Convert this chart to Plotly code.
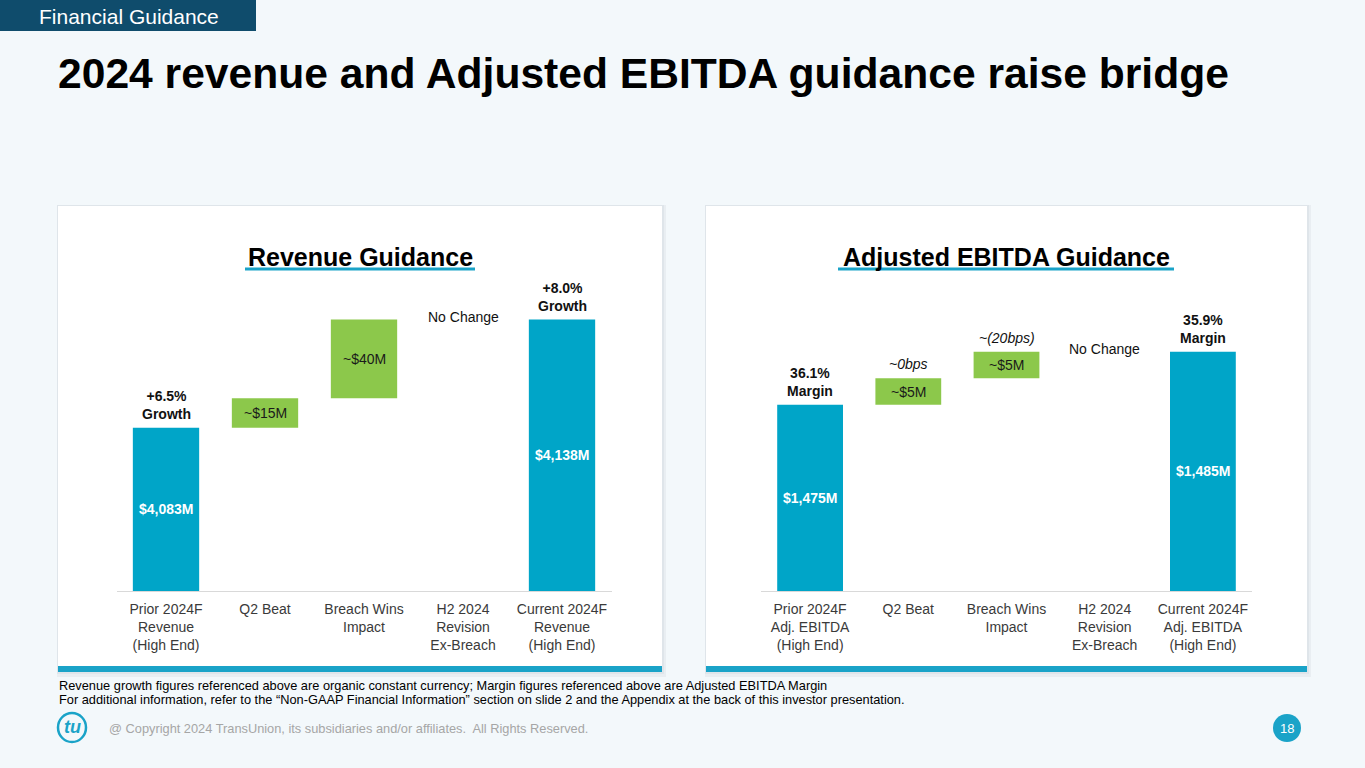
import plotly.graph_objects as go

# ---------------- data ----------------
rev_categories = ["Prior 2024F<br>Revenue<br>(High End)", "Q2 Beat", "Breach Wins<br>Impact",
                  "H2 2024<br>Revision<br>Ex-Breach", "Current 2024F<br>Revenue<br>(High End)"]
rev_values = [4083, 15, 40, 0, 4138]
rev_measures = ["absolute", "relative", "relative", "relative", "total"]
rev_bar_labels = ["$4,083M", "~$15M", "~$40M", "", "$4,138M"]
rev_top_labels = ["+6.5%<br>Growth", "", "", "No Change", "+8.0%<br>Growth"]

ebitda_categories = ["Prior 2024F<br>Adj. EBITDA<br>(High End)", "Q2 Beat", "Breach Wins<br>Impact",
                     "H2 2024<br>Revision<br>Ex-Breach", "Current 2024F<br>Adj. EBITDA<br>(High End)"]
ebitda_values = [1475, 5, 5, 0, 1485]
ebitda_measures = ["absolute", "relative", "relative", "relative", "total"]
ebitda_bar_labels = ["$1,475M", "~$5M", "~$5M", "", "$1,485M"]
ebitda_top_labels = ["36.1%<br>Margin", "~0bps", "~(20bps)", "No Change", "35.9%<br>Margin"]

rev_axis_range = [4000, 4153]
ebitda_axis_range = [1440, 1496.6]

# ---------------- style ----------------
W, H = 1365, 768
BG = "#F3F8FB"
BLUE = "#00A5C8"
GREEN = "#8CC84B"
CYAN = "#1AA3C8"
NAVY = "#0F4C6C"
FONT = "Arial, Liberation Sans, sans-serif"


def px(x):
    return x / W


def py(y):
    return 1 - y / H


fig = go.Figure()


def add_waterfall(cats, vals, meas, xaxis, yaxis):
    fig.add_trace(go.Waterfall(
        x=cats, y=vals, measure=meas, xaxis=xaxis, yaxis=yaxis,
        increasing=dict(marker=dict(color=GREEN, line=dict(width=0))),
        decreasing=dict(marker=dict(color=GREEN, line=dict(width=0))),
        totals=dict(marker=dict(color=BLUE, line=dict(width=0))),
        connector=dict(visible=False),
        textposition="none", hoverinfo="skip", showlegend=False,
    ))


add_waterfall(rev_categories, rev_values, rev_measures, "x", "y")
add_waterfall(ebitda_categories, ebitda_values, ebitda_measures, "x2", "y2")

annotations = []


def add_labels(cats, vals, meas, bar_labels, top_labels, xref, yref, floor):
    running = 0
    for i, (c, v, m) in enumerate(zip(cats, vals, meas)):
        if m == "absolute":
            lo, hi = floor, v
            running = v
        elif m == "relative":
            lo, hi = running, running + v
            running = running + v
        else:
            lo, hi = floor, running
        if bar_labels[i]:
            is_total = m != "relative"
            annotations.append(dict(
                x=c, y=(lo + hi) / 2, xref=xref, yref=yref, text=(f"<b>{bar_labels[i]}</b>" if is_total else bar_labels[i]),
                showarrow=False, font=dict(family=FONT, size=14, color="white" if is_total else "#1a1a1a"),
            ))
        t = top_labels[i]
        if t:
            anchor = "bottom"
            if "bps" in t:
                txt, shift = f"<i>{t}</i>", 4
            elif t == "No Change":
                txt, shift, anchor = t, 3, "middle"
            else:
                txt, shift = f"<b>{t}</b>", 4
            annotations.append(dict(
                x=c, y=hi, xref=xref, yref=yref, text=txt, showarrow=False,
                yanchor=anchor, yshift=shift,
                font=dict(family=FONT, size=14, color="#111111"),
            ))


add_labels(rev_categories, rev_values, rev_measures, rev_bar_labels, rev_top_labels, "x", "y", rev_axis_range[0])
add_labels(ebitda_categories, ebitda_values, ebitda_measures, ebitda_bar_labels, ebitda_top_labels, "x2", "y2", ebitda_axis_range[0])

# ---------------- text ----------------
annotations += [
    dict(x=px(37), y=py(16), xref="paper", yref="paper", xanchor="left", yanchor="middle",
         text="Financial Guidance", showarrow=False, font=dict(family=FONT, size=21, color="white")),
    dict(x=px(56), y=py(73), xref="paper", yref="paper", xanchor="left", yanchor="middle",
         text="<b>2024 revenue and Adjusted EBITDA guidance raise bridge</b>", showarrow=False,
         font=dict(family=FONT, size=42.6, color="#000000")),
    dict(x=px(360), y=py(257), xref="paper", yref="paper", xanchor="center", yanchor="middle",
         text="<b>Revenue Guidance</b>", showarrow=False, font=dict(family=FONT, size=25, color="#000000")),
    dict(x=px(1006), y=py(257), xref="paper", yref="paper", xanchor="center", yanchor="middle",
         text="<b>Adjusted EBITDA Guidance</b>", showarrow=False, font=dict(family=FONT, size=25, color="#000000")),
    dict(x=px(57), y=py(685), xref="paper", yref="paper", xanchor="left", yanchor="middle",
         text="Revenue growth figures referenced above are organic constant currency; Margin figures referenced above are Adjusted EBITDA Margin",
         showarrow=False, font=dict(family=FONT, size=12.8, color="#000000")),
    dict(x=px(57), y=py(699), xref="paper", yref="paper", xanchor="left", yanchor="middle",
         text="For additional information, refer to the \u201cNon-GAAP Financial Information\u201d section on slide 2 and the Appendix at the back of this investor presentation.",
         showarrow=False, font=dict(family=FONT, size=12.8, color="#000000")),
    dict(x=px(107), y=py(728), xref="paper", yref="paper", xanchor="left", yanchor="middle",
         text="@ Copyright 2024 TransUnion, its subsidiaries and/or affiliates.  All Rights Reserved.",
         showarrow=False, font=dict(family=FONT, size=12.8, color="#A6A6A6")),
    dict(x=px(1287), y=py(728), xref="paper", yref="paper", xanchor="center", yanchor="middle",
         text="18", showarrow=False, font=dict(family=FONT, size=13, color="white")),
    dict(x=px(72), y=py(727), xref="paper", yref="paper", xanchor="center", yanchor="middle",
         text="<b><i>tu</i></b>", showarrow=False, font=dict(family=FONT, size=18, color=CYAN)),
]

# ---------------- shapes ----------------
shapes = [
    dict(type="rect", xref="paper", yref="paper", x0=px(0), x1=px(256), y0=py(31), y1=py(0),
         fillcolor=NAVY, line=dict(width=0), layer="below"),
]
for (l, r) in [(58, 662), (706, 1307)]:
    # soft shadow
    shapes.append(dict(type="rect", xref="paper", yref="paper", x0=px(l - 1), x1=px(r + 4), y0=py(677), y1=py(205),
                       fillcolor="#E9EEF2", line=dict(width=0), layer="below"))
    shapes.append(dict(type="rect", xref="paper", yref="paper", x0=px(l - 1), x1=px(r + 2), y0=py(674), y1=py(205),
                       fillcolor="#DFE5EA", line=dict(width=0), layer="below"))
    shapes.append(dict(type="rect", xref="paper", yref="paper", x0=px(l), x1=px(r), y0=py(672), y1=py(206),
                       fillcolor="white", line=dict(width=0), layer="below"))
    shapes.append(dict(type="rect", xref="paper", yref="paper", x0=px(l), x1=px(r), y0=py(672), y1=py(666),
                       fillcolor=CYAN, line=dict(width=0), layer="below"))
# title underlines
shapes.append(dict(type="line", xref="paper", yref="paper", x0=px(245), x1=px(475), y0=py(269), y1=py(269),
                   line=dict(color=CYAN, width=3)))
shapes.append(dict(type="line", xref="paper", yref="paper", x0=px(838), x1=px(1174), y0=py(269), y1=py(269),
                   line=dict(color=CYAN, width=3)))
# page number circle
shapes.append(dict(type="circle", xref="paper", yref="paper", x0=px(1273), x1=px(1301), y0=py(742), y1=py(714),
                   fillcolor=CYAN, line=dict(width=0)))
# logo ring
shapes.append(dict(type="circle", xref="paper", yref="paper", x0=px(58), x1=px(86), y0=py(742), y1=py(713),
                   fillcolor="rgba(0,0,0,0)", line=dict(color=CYAN, width=2.5)))

axis_x = dict(showgrid=False, zeroline=False, showline=True, linecolor="#D9D9D9", linewidth=1,
              ticks="outside", ticklen=5, tickcolor="rgba(0,0,0,0)",
              tickfont=dict(family=FONT, size=14, color="#3A3A3A"), fixedrange=True)
axis_y = dict(showgrid=False, zeroline=False, showline=False, showticklabels=False, fixedrange=True)

fig.update_layout(
    width=W, height=H, margin=dict(l=0, r=0, t=0, b=0),
    paper_bgcolor=BG, plot_bgcolor="rgba(0,0,0,0)",
    waterfallgap=0.33,
    xaxis=dict(axis_x, domain=[px(116.5), px(611.5)]),
    yaxis=dict(axis_y, domain=[py(591), py(290)], range=rev_axis_range),
    xaxis2=dict(axis_x, domain=[px(761), px(1252)], anchor="y2"),
    yaxis2=dict(axis_y, domain=[py(591), py(290)], range=ebitda_axis_range, anchor="x2"),
    annotations=annotations, shapes=shapes,
)

fig.write_html(
    "out.html",
    config={"displayModeBar": False},
    post_script="document.body.style.margin='0';document.body.style.overflow='hidden';document.body.style.background='" + BG + "';",
)
